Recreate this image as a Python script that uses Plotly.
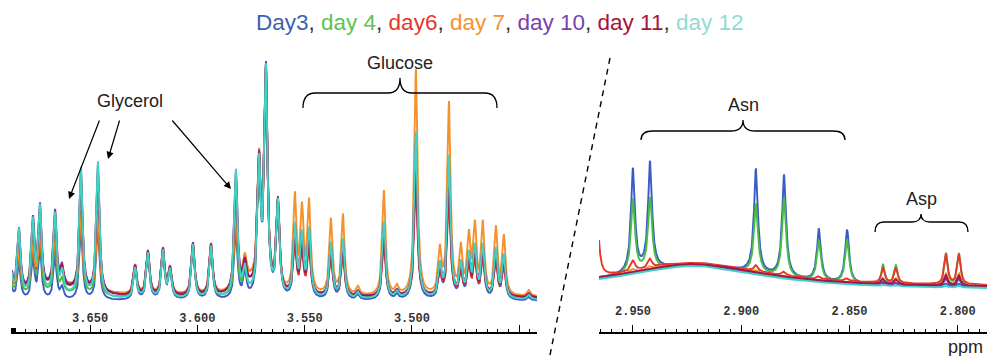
import numpy as np
import plotly.graph_objects as go

W, H = 987, 356

# ---------------- data ----------------
days = ["Day3", "day 4", "day6", "day 7", "day 10", "day 11", "day 12"]
title_colors = ["#3c5fb4", "#5cc453", "#e2392d", "#f7922e", "#7b3fae", "#a3143c", "#8fdcd6"]
line_colors = ["#3a5bc6", "#47bd45", "#e8362a", "#f6902a", "#7d3aa6", "#a3164a", "#3fd3c4"]

# Left panel: peak positions (ppm), top heights, and compound group
left_ppm = [3.6875, 3.6831, 3.6766, 3.6733, 3.6663, 3.6630, 3.6542, 3.6463,
            3.6290, 3.6230, 3.6160, 3.6127, 3.6020, 3.5936, 3.5820, 3.5778,
            3.5712, 3.5680, 3.5624, 3.5545, 3.5512, 3.5479, 3.5377, 3.5321,
            3.5251, 3.5130, 3.5069, 3.4981, 3.4869, 3.4827, 3.4771, 3.4734,
            3.4706, 3.4669, 3.4608, 3.4571, 3.4454]
left_height = [55, 66, 73, 86, 80, 21, 128, 135,
               31, 46, 48, 28, 55, 53, 126, 25,
               130, 228, 95, 95, 81, 90, 75, 80,
               8, 105, 8, 226, 43, 191, 45, 56,
               66, 70, 66, 58, 6]
left_group = ["g", "g", "g", "g", "g", "g", "g", "g",
              "m", "m", "m", "m", "m", "m", "g", "m",
              "m", "m", "m", "c", "c", "c", "c", "c",
              "c", "c", "c", "c", "c", "c", "c", "c",
              "c", "c", "c", "c", "c"]
glycerol_scale = [0.55, 0.60, 0.55, 0.60, 0.95, 0.90, 1.00]
shared_scale = [1.00, 0.97, 0.93, 0.95, 0.97, 0.95, 0.98]
glucose_scale = [0.62, 0.66, 0.50, 1.00, 0.70, 0.60, 0.74]
left_baseline = [31, 33, 35, 35, 34, 34, 32]
left_hump_ppm = [3.666, 3.576]
left_hump_width = [0.015, 0.006]
left_hump_height = [[0, 5, 12, 12, 9, 8, 4],
                    [0, 3, 14, 14, 8, 8, 3]]

# Right panel: Asn and Asp multiplets, heights per day
right_ppm = [2.9665, 2.9500, 2.9421, 2.8932, 2.8802, 2.8641, 2.8511,
             2.8345, 2.8285, 2.8054, 2.7994]
right_height = [
    [0, 103, 107, 104, 102, 52, 53, 2, 2, 3, 3],     # Day3
    [0, 73, 71, 69, 79, 40, 43, 20, 20, 33, 33],     # day 4
    [55, 10, 9, 6, 4, 3, 3, 15, 15, 30, 30],         # day6
    [0, 3, 3, 2, 1, 0, 0, 6, 6, 12, 12],             # day 7
    [0, 0, 0, 0, 0, 0, 0, 3, 3, 8, 8],               # day 10
    [0, 0, 0, 0, 0, 0, 0, 5, 5, 10, 10],             # day 11
    [0, 0, 0, 0, 0, 0, 0, 1, 1, 2, 2],               # day 12
]
right_baseline = [43, 43, 45, 44, 43, 44, 42]
right_hump_ppm = 2.922
right_hump_height = 24
right_hump_width = 0.04

left_range = [3.6864, 3.4417]
right_range = [2.9657, 2.7865]


def lorentz(x, x0, h, g):
    return h / (1.0 + ((x - x0) / g) ** 2)


def px(x):
    return x / W


def py(y):
    return 1 - y / H


fig = go.Figure()

xl = np.linspace(left_range[1], left_range[0], 4000)
xr = np.linspace(right_range[1], right_range[0], 3000)
scales = {"g": glycerol_scale, "m": shared_scale, "c": glucose_scale}

for i, name in enumerate(days):
    yl = np.full_like(xl, float(left_baseline[i]))
    for k, c in enumerate(left_hump_ppm):
        yl += lorentz(xl, c, left_hump_height[k][i], left_hump_width[k])
    for p, h, g in zip(left_ppm, left_height, left_group):
        yl += lorentz(xl, p, h * scales[g][i], 0.00085)
    fig.add_trace(go.Scatter(x=xl, y=yl, mode="lines", name=name,
                             line=dict(color=line_colors[i], width=1.9),
                             xaxis="x", yaxis="y", showlegend=False, hoverinfo="skip"))

    yr = np.full_like(xr, float(right_baseline[i]))
    yr += lorentz(xr, right_hump_ppm, right_hump_height, right_hump_width)
    for j, (p, h) in enumerate(zip(right_ppm, right_height[i])):
        g = 0.0011 if j < 7 else 0.0009
        yr += lorentz(xr, p, h, g)
    fig.add_trace(go.Scatter(x=xr, y=yr, mode="lines", name=name,
                             line=dict(color=line_colors[i], width=1.9),
                             xaxis="x2", yaxis="y2", showlegend=False, hoverinfo="skip"))

tickfont = dict(family="Liberation Mono", size=12, color="#333333", weight="bold")
common_x = dict(showline=True, linecolor="black", linewidth=2, ticks="inside",
                ticklen=7, tickwidth=1.2, tickcolor="black", tickmode="linear",
                dtick=0.05, tickformat=".3f", ticklabelposition="inside",
                tickfont=tickfont, showgrid=False, zeroline=False,
                minor=dict(ticks="inside", ticklen=3, dtick=0.005, tickcolor="black",
                           tickwidth=1, showgrid=False))

fig.update_layout(
    width=W, height=H,
    margin=dict(l=0, r=0, t=0, b=0),
    paper_bgcolor="white", plot_bgcolor="white",
    xaxis=dict(domain=[px(12), px(537)], range=left_range, anchor="y",
               tick0=3.5, **common_x),
    xaxis2=dict(domain=[px(599), 1], range=right_range, anchor="y2",
                tick0=2.8, ticklabelstandoff=7, **common_x),
    yaxis=dict(domain=[py(332), py(60)], range=[0, 272], visible=False),
    yaxis2=dict(domain=[py(332), py(60)], range=[0, 272], visible=False),
)

# Title made of colored day names
parts = [f"<span style='color:{c}'>{d}</span>" for d, c in zip(days, title_colors)]
title_text = "<span style='color:#333'>, </span>".join(parts)
fig.add_annotation(text=title_text, x=px(500), y=py(22), xref="paper", yref="paper",
                   showarrow=False, xanchor="center", yanchor="middle",
                   font=dict(family="Liberation Sans", size=22.5, color="#333"))

label_font = dict(family="Liberation Sans", size=18, color="#222")
for txt, x, y in [("Glycerol", 130, 101), ("Glucose", 400, 63), ("Asn", 743, 105),
                  ("Asp", 921, 199), ("ppm", 965, 347)]:
    fig.add_annotation(text=txt, x=px(x), y=py(y), xref="paper", yref="paper",
                       showarrow=False, xanchor="center", yanchor="middle", font=label_font)

# Arrows for glycerol
for hx, hy, tx, ty in [(69, 199, 100, 119), (108, 159, 120, 119), (231, 189, 171, 119)]:
    fig.add_annotation(x=px(hx), y=py(hy), xref="paper", yref="paper", text="",
                       showarrow=True, ax=tx - hx, ay=ty - hy, arrowhead=2,
                       arrowsize=1.2, arrowwidth=1.2, arrowcolor="black", standoff=0)


def brace(x0, x1, xc, yb, yh, yt, r):
    pts = (f"M {px(x0)},{py(yb)} Q {px(x0)},{py(yh)} {px(x0 + r)},{py(yh)} "
           f"L {px(xc - r)},{py(yh)} Q {px(xc)},{py(yh)} {px(xc)},{py(yt)} "
           f"Q {px(xc)},{py(yh)} {px(xc + r)},{py(yh)} "
           f"L {px(x1 - r)},{py(yh)} Q {px(x1)},{py(yh)} {px(x1)},{py(yb)}")
    return dict(type="path", path=pts, xref="paper", yref="paper",
                line=dict(color="black", width=1.3))


fig.add_shape(brace(303, 497, 400, 108, 93, 78, 12))
fig.add_shape(brace(641, 845, 743, 140, 131, 120, 12))
fig.add_shape(brace(875, 968, 921, 232, 222, 214, 9))

# Dashed separator
fig.add_shape(type="line", x0=px(610), y0=py(58), x1=px(550), y1=py(355),
              xref="paper", yref="paper", line=dict(color="black", width=1.4, dash="6px,5px"))
# Small block at the start of the left axis
fig.add_shape(type="rect", x0=px(11), x1=px(16), y0=py(334), y1=py(328),
              xref="paper", yref="paper", fillcolor="black", line=dict(width=0))

fig.write_html("out.html")
